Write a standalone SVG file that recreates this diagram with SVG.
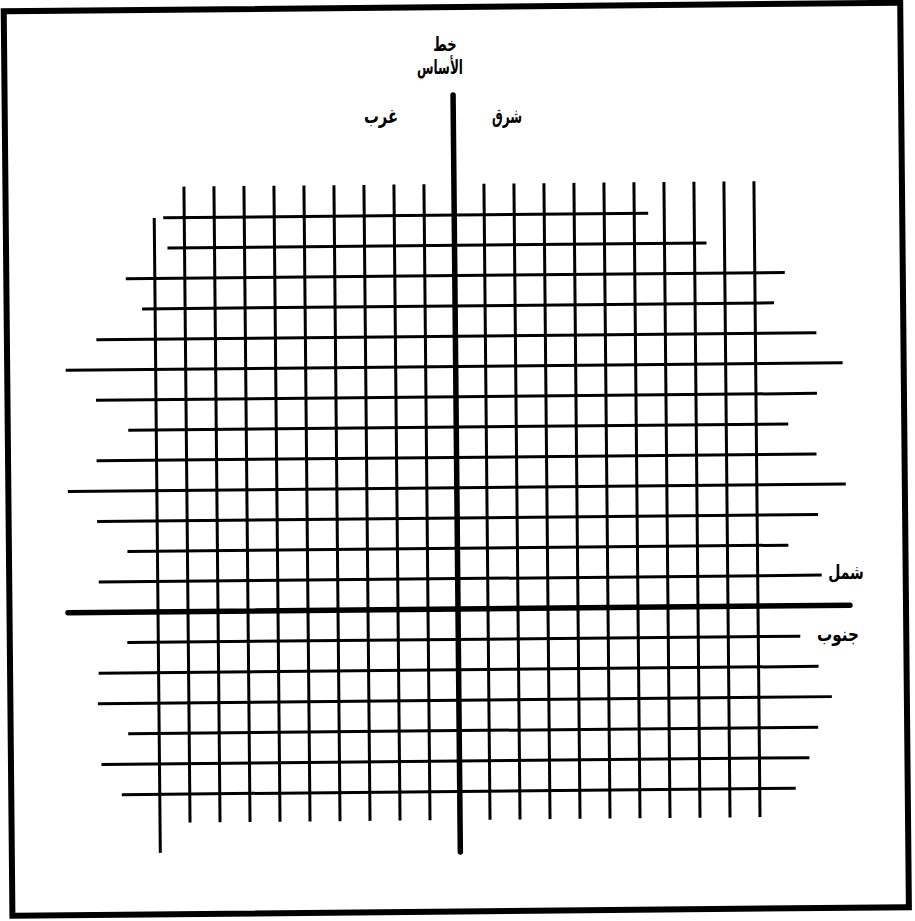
<svg xmlns="http://www.w3.org/2000/svg" width="915" height="921" viewBox="0 0 915 921">
<style>
.g{stroke:#000;stroke-width:3;stroke-linecap:butt;fill:none}
.ax{stroke:#000;stroke-width:5.5;stroke-linecap:round;fill:none}
.fr{stroke:#000;stroke-width:6;fill:none}
.t{font-family:"DejaVu Sans",sans-serif;font-weight:bold;font-size:20px;fill:#000;text-anchor:middle}
</style>
<rect width="915" height="921" fill="#fff"/>
<g transform="rotate(-0.55 459 609)">
<rect id="frame" class="fr" x="9.5" y="7" width="896.5" height="904.5"/>
<g id="connectors">
<g id="verticals">
<line class="g" x1="158" y1="215" x2="158" y2="850"/>
<line class="g" x1="188" y1="184" x2="188" y2="820"/>
<line class="g" x1="218" y1="184" x2="218" y2="820"/>
<line class="g" x1="248" y1="184" x2="248" y2="820"/>
<line class="g" x1="278" y1="184" x2="278" y2="820"/>
<line class="g" x1="308" y1="184" x2="308" y2="820"/>
<line class="g" x1="338" y1="184" x2="338" y2="820"/>
<line class="g" x1="368" y1="184" x2="368" y2="820"/>
<line class="g" x1="398" y1="184" x2="398" y2="820"/>
<line class="g" x1="428" y1="184" x2="428" y2="820"/>
<line class="g" x1="488" y1="184" x2="488" y2="820"/>
<line class="g" x1="518" y1="184" x2="518" y2="820"/>
<line class="g" x1="548" y1="184" x2="548" y2="820"/>
<line class="g" x1="578" y1="184" x2="578" y2="820"/>
<line class="g" x1="608" y1="184" x2="608" y2="820"/>
<line class="g" x1="638" y1="184" x2="638" y2="820"/>
<line class="g" x1="668" y1="184" x2="668" y2="820"/>
<line class="g" x1="698" y1="184" x2="698" y2="820"/>
<line class="g" x1="728" y1="184" x2="728" y2="820"/>
<line class="g" x1="758" y1="184" x2="758" y2="820"/>
</g>
<g id="horizontals">
<line class="g" x1="167" y1="215" x2="652" y2="215"/>
<line class="g" x1="171" y1="245.3" x2="710" y2="245.3"/>
<line class="g" x1="129" y1="275.6" x2="788" y2="275.6"/>
<line class="g" x1="145" y1="305.9" x2="777" y2="305.9"/>
<line class="g" x1="99" y1="336.2" x2="819" y2="336.2"/>
<line class="g" x1="68" y1="366.5" x2="845" y2="366.5"/>
<line class="g" x1="98" y1="396.8" x2="819" y2="396.8"/>
<line class="g" x1="130" y1="427.1" x2="790" y2="427.1"/>
<line class="g" x1="98" y1="457.4" x2="818" y2="457.4"/>
<line class="g" x1="69" y1="487.7" x2="847" y2="487.7"/>
<line class="g" x1="98" y1="518" x2="819" y2="518"/>
<line class="g" x1="128" y1="548.3" x2="789" y2="548.3"/>
<line class="g" x1="99" y1="578.6" x2="822" y2="578.6"/>
<line class="g" x1="127" y1="639.4" x2="800" y2="639.4"/>
<line class="g" x1="98" y1="669.8" x2="818" y2="669.8"/>
<line class="g" x1="97" y1="700.2" x2="831" y2="700.2"/>
<line class="g" x1="127" y1="730.6" x2="817" y2="730.6"/>
<line class="g" x1="100" y1="761" x2="808" y2="761"/>
<line class="g" x1="120" y1="791.4" x2="794" y2="791.4"/>
</g>
<g id="axes">
<line id="baseline-axis" class="ax" x1="458" y1="95" x2="458" y2="852"/>
<line id="east-west-axis" class="ax" x1="68" y1="609" x2="850" y2="609"/>
</g>
</g>
</g>
<g id="labels">
<g id="label-baseline">
<text class="t" transform="translate(445,51) scale(0.65,1)">خط</text>
<text class="t" transform="translate(440,74) scale(0.6,1)">الأساس</text>
</g>
<g id="label-west"><text class="t" transform="translate(381,123) scale(0.74,1)">غرب</text></g>
<g id="label-east"><text class="t" transform="translate(507,123) scale(0.6,1)">شرق</text></g>
<g id="label-north"><text class="t" transform="translate(846,579) scale(0.7,1)">شمل</text></g>
<g id="label-south"><text class="t" transform="translate(838,641) scale(0.76,1)">جنوب</text></g>
</g>
</svg>
